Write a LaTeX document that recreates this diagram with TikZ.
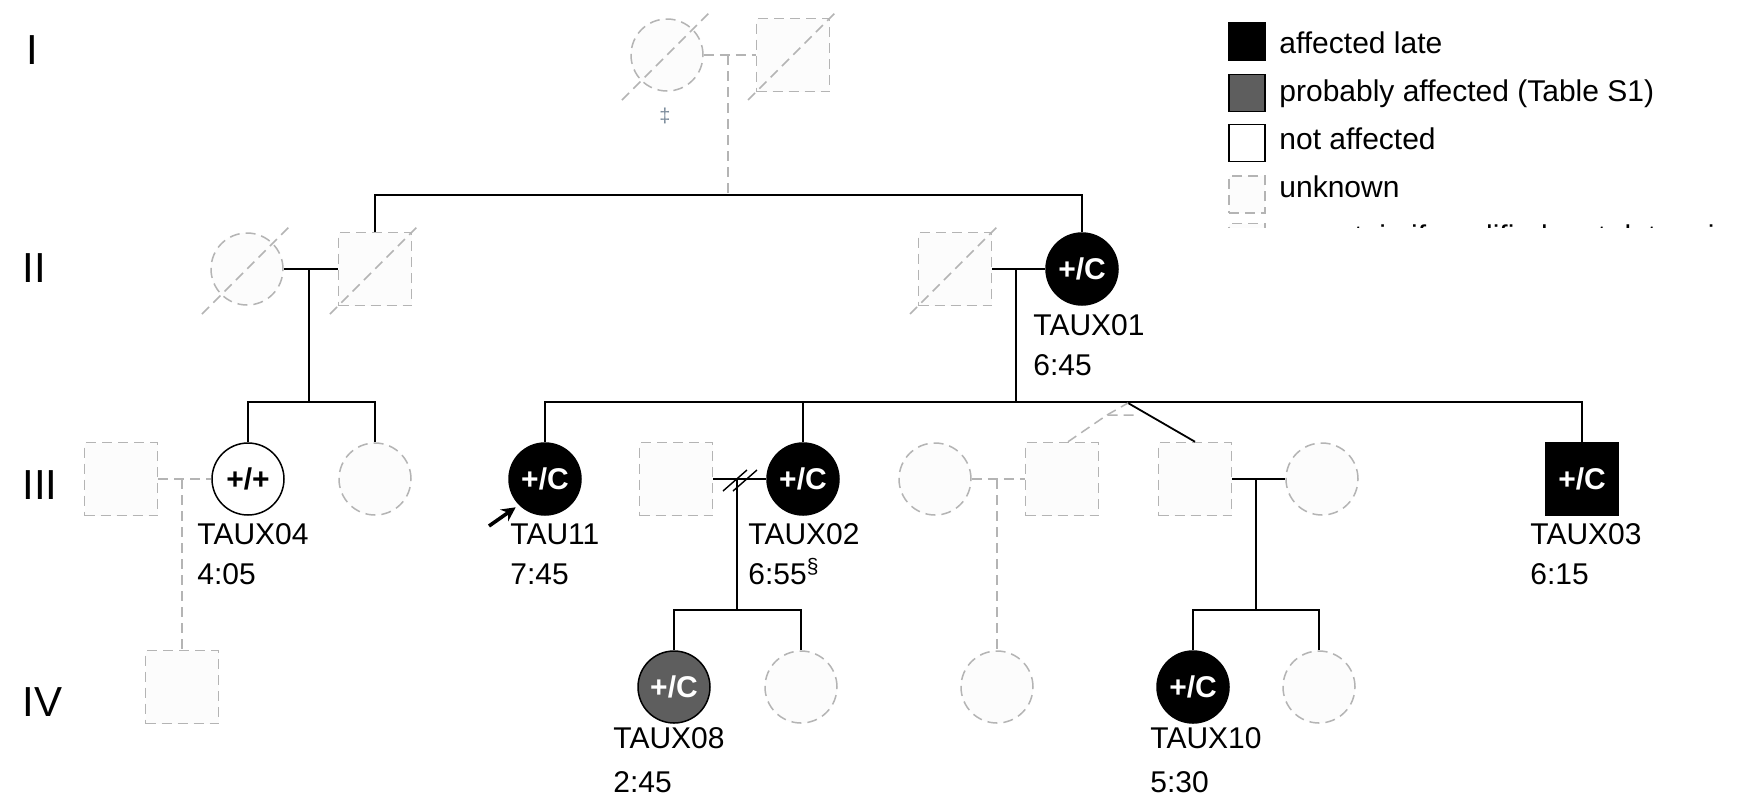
\documentclass[tikz,border=0pt]{standalone}
\usepackage{fontspec}
\setmainfont{Liberation Sans}
\usetikzlibrary{arrows.meta}
\definecolor{unkgray}{HTML}{B4B4B4}
\definecolor{unkfill}{HTML}{FCFCFC}
\definecolor{affgray}{HTML}{5E5E5E}
\definecolor{ddagcol}{HTML}{7C8C9C}
\begin{document}
\begin{tikzpicture}[x=0.5pt,y=-0.5pt,
  txt/.style={font=\fontsize{15}{18}\selectfont},
  lbl/.style={txt, anchor=base west, inner sep=0pt},
  gen/.style={font=\fontsize{21}{24}\selectfont, anchor=west, inner sep=0pt},
  sym/.style={font=\fontsize{15}{18}\selectfont\bfseries, inner sep=0pt, line width=0.75pt},
  fem/.style={sym, circle, minimum size=36pt},
  mal/.style={sym, rectangle, minimum size=36.5pt},
  aff/.style={fill=black, draw=black, text=white},
  prob/.style={fill=affgray, draw=black, text=white},
  naff/.style={fill=white, draw=black, text=black},
  unk/.style={draw=unkgray, fill=unkfill, dash pattern=on 5pt off 3pt},
  lgbox/.style={rectangle, minimum width=18pt, minimum height=18.5pt, inner sep=0pt, line width=0.75pt},
  con/.style={draw=black, line width=0.9pt},
  ucon/.style={draw=unkgray, line width=0.75pt, dash pattern=on 5pt off 3pt},
  proband/.style={draw=black, line width=1.8pt, -{Stealth[length=7pt,width=7pt]}, shorten >=2pt},
]
\useasboundingbox[fill=white] (0,0) rectangle (1741,799);

% generation labels
\node[gen] (gI) at (26,50) {I};
\node[gen] (gII) at (22,268) {II};
\node[gen] (gIII) at (22,485) {III};
\node[gen] (gIV) at (22,702) {IV};

% ---------- Generation I ----------
\node[fem,unk] (i1) at (667,55) {};
\node[mal,unk] (i2) at (793,55) {};
\draw[ucon] (i1.center) ++(-45,45) -- ++(90,-90);
\draw[ucon] (i2.center) ++(-45,45) -- ++(90,-90);
\draw[ucon] (i1) -- (i2);
\coordinate (mI) at (728,55);
\coordinate (sI) at (728,196);
\draw[ucon] (mI) -- (sI);
\node[text=ddagcol, font=\fontsize{10}{12}\selectfont, inner sep=0pt] (dd) at (665,116) {‡};

% ---------- Generation II ----------
\node[fem,unk] (ii1) at (247,269) {};
\node[mal,unk] (ii2) at (375,269) {};
\draw[ucon] (ii1.center) ++(-45,45) -- ++(90,-90);
\draw[ucon] (ii2.center) ++(-45,45) -- ++(90,-90);
\node[mal,unk] (ii3) at (955,269) {};
\draw[ucon] (ii3.center) ++(-45,45) -- ++(90,-90);
\node[fem,aff] (taux01) at (1082,269) {+/C};
\draw[con] (ii2.north) -- ++(0,-36.5) -| (taux01.north);
\draw[con] (ii1) -- (ii2);
\draw[con] (ii3) -- (taux01);
\coordinate (mII1) at (309,269);
\coordinate (sII1) at (309,403);
\coordinate (mII2) at (1016,269);
\coordinate (sII2) at (1016,403);
\draw[con] (mII1) -- (sII1);
\draw[con] (mII2) -- (sII2);

\node[lbl] (t01) at (1033,335) {TAUX01};
\node[lbl] (a01) at (1033,375) {6:45};

% ---------- Generation III ----------
\node[mal,unk] (iii1) at (121,479) {};
\node[fem,naff] (taux04) at (248,479) {+/+};
\node[fem,unk] (iii3) at (375,479) {};
\node[fem,aff] (tau11) at (545,479) {+/C};
\node[mal,unk] (iii5) at (676,479) {};
\node[fem,aff] (taux02) at (803,479) {+/C};
\node[fem,unk] (iii7) at (935,479) {};
\node[mal,unk] (iii8) at (1062,479) {};
\node[mal,unk] (iii9) at (1195,479) {};
\node[fem,unk] (iii10) at (1322,479) {};
\node[mal,aff] (taux03) at (1582,479) {+/C};

% sibships
\draw[con] (taux04.north) -- ++(0,-40) -| (iii3.north);
\draw[con] (tau11.north) -- ++(0,-40) -| (taux03.north);
\draw[con] (taux02.north) -- ++(0,-40);
\coordinate (tw) at (1128,403);
\coordinate (twb) at (1107,415);
\coordinate (twc) at (1138,415);
\draw[con] (tw) -- (iii9.north);
\draw[ucon] (iii8.north) ++(6,0) -- (twb) -- (twc);
\draw[ucon] (twb) -- (tw);

% marriages
\draw[ucon] (iii1) -- (taux04);
\draw[con] (iii5) -- (taux02);
\draw[con, line width=0.7pt] (723,491) -- (747,470);
\draw[con, line width=0.7pt] (733,491) -- (757,470);
\draw[ucon] (iii7) -- (iii8);
\draw[con] (iii9) -- (iii10);

% proband arrow
\coordinate (pa) at (489,526);
\draw[proband] (pa) -- (tau11.south west);

\node[lbl] (t04) at (197,544) {TAUX04};
\node[lbl] (a04) at (197,584) {4:05};
\node[lbl] (t11) at (510,544) {TAU11};
\node[lbl] (a11) at (510,584) {7:45};
\node[lbl] (t02) at (748,544) {TAUX02};
\node[lbl] (a02) at (748,584) {6:55\textsuperscript{§}};
\node[lbl] (t03) at (1530,544) {TAUX03};
\node[lbl] (a03) at (1530,584) {6:15};

% ---------- Generation IV ----------
\node[mal,unk] (iv1) at (182,687) {};
\node[fem,prob] (taux08) at (674,687) {+/C};
\node[fem,unk] (iv3) at (801,687) {};
\node[fem,unk] (iv4) at (997,687) {};
\node[fem,aff] (taux10) at (1193,687) {+/C};
\node[fem,unk] (iv6) at (1319,687) {};

\coordinate (mIII1) at (182,479);
\coordinate (mIII2) at (737,479);
\coordinate (sIII2) at (737,611);
\coordinate (mIII3) at (997,479);
\coordinate (mIII4) at (1256,479);
\coordinate (sIII4) at (1256,611);
\draw[ucon] (mIII1) -- (iv1.north);
\draw[con] (mIII2) -- (sIII2);
\draw[con] (taux08.north) -- ++(0,-40) -| (iv3.north);
\draw[ucon] (mIII3) -- (iv4.north);
\draw[con] (mIII4) -- (sIII4);
\draw[con] (taux10.north) -- ++(0,-40) -| (iv6.north);

\node[lbl] (t08) at (613,748) {TAUX08};
\node[lbl] (a08) at (613,792) {2:45};
\node[lbl] (t10) at (1150,748) {TAUX10};
\node[lbl] (a10) at (1150,792) {5:30};

% ---------- Legend ----------
\node[lgbox, fill=black, draw=black] (lg1) at (1247,41.5) {};
\node[lgbox, fill=affgray, draw=black] (lg2) at (1247,93) {};
\node[lgbox, fill=white, draw=black] (lg3) at (1247,143) {};
\node[lgbox, unk] (lg4) at (1247,194.5) {};
\node[lbl] (lt1) at (1279,53) {affected late};
\node[lbl] (lt2) at (1279,101) {probably affected (Table S1)};
\node[lbl] (lt3) at (1279,149) {not affected};
\node[lbl] (lt4) at (1279,197) {unknown};
\begin{scope}
  \clip (1200,216) rectangle (1741,227);
  \node[lgbox, unk] (lg5) at (1247,242) {};
  \node[lbl] (lt5) at (1279,246) {uncertain if modified, not determined};
\end{scope}
\end{tikzpicture}
\end{document}
